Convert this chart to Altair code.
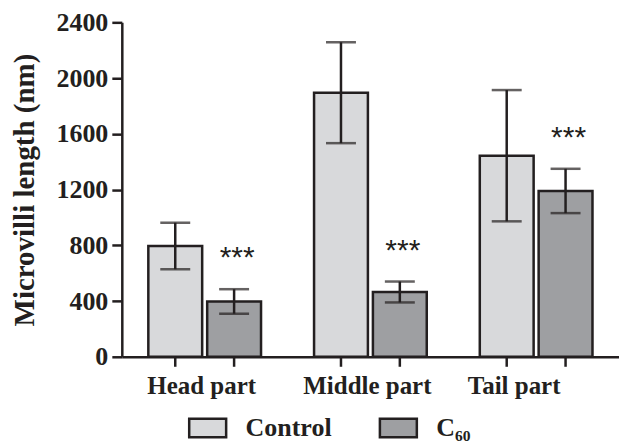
import altair as alt
import pandas as pd

parts = ["Head part", "Middle part", "Tail part"]
series = ["Control", "C₆₀"]
control_mean = [795, 1895, 1443]
control_err = [167, 362, 471]
c60_mean = [397, 465, 1190]
c60_err = [88, 75, 159]
c60_sig = ["***", "***", "***"]

rows = []
for i, p in enumerate(parts):
    rows.append(dict(part=p, group=series[0], mean=control_mean[i],
                     lo=control_mean[i] - control_err[i], hi=control_mean[i] + control_err[i], sig=""))
    rows.append(dict(part=p, group=series[1], mean=c60_mean[i],
                     lo=c60_mean[i] - c60_err[i], hi=c60_mean[i] + c60_err[i], sig=c60_sig[i]))
df = pd.DataFrame(rows)

INK = "#231f20"
FONT = "Liberation Serif"
W, H = 498, 335

x = alt.X("part:N", sort=parts, title=None,
          scale=alt.Scale(paddingInner=0.32, paddingOuter=0.16),
          axis=alt.Axis(labelAngle=0, ticks=False, labelPadding=17, domainColor=INK,
                        domainWidth=2.5, labelFont=FONT, labelFontWeight="bold",
                        labelFontSize=25, labelColor=INK,
                        labelOffset={"condition": {"test": "datum.value == 'Tail part'", "value": -22},
                                     "value": -3}))
xo = alt.XOffset("group:N", sort=series,
                 scale=alt.Scale(paddingInner=0.085, paddingOuter=0))
y = alt.Y("mean:Q", title="Microvilli length (nm)",
          scale=alt.Scale(domain=[0, 2400], nice=False),
          axis=alt.Axis(values=[0, 400, 800, 1200, 1600, 2000, 2400], format="d", grid=False,
                        domainColor=INK, domainWidth=2.5, tickColor=INK, tickWidth=2.5,
                        tickSize=10, labelPadding=4, labelFont=FONT, labelFontWeight="bold",
                        labelFontSize=26, labelColor=INK, titleFont=FONT,
                        titleFontWeight="bold", titleFontSize=29, titleColor=INK,
                        titlePadding=16))

base = alt.Chart(df)

bars = base.mark_bar(stroke=INK, strokeWidth=2.5).encode(
    x=x, xOffset=xo, y=y,
    color=alt.Color("group:N", sort=series,
                    scale=alt.Scale(domain=series, range=["#d8d9db", "#9e9fa2"]),
                    legend=alt.Legend(title=None, orient="none", direction="horizontal",
                                      legendX=66, legendY=386,
                                      symbolType="M-1,-0.5h2v1h-2z", symbolSize=1369,
                                      symbolStrokeColor=INK, symbolStrokeWidth=2.5,
                                      symbolOpacity=1, labelFont=FONT,
                                      labelFontWeight="bold", labelFontSize=26,
                                      labelColor=INK, labelOffset=18,
                                      columnPadding=42, padding=0, labelLimit=200)),
)

err = base.mark_rule(color=INK, strokeWidth=2.5).encode(
    x=x, xOffset=xo, y="lo:Q", y2="hi:Q")
cap_hi = base.mark_tick(color=INK, thickness=2.5, size=30).encode(
    x=x, xOffset=xo, y="hi:Q")
cap_lo = base.mark_tick(color=INK, thickness=2.5, size=30).encode(
    x=x, xOffset=xo, y="lo:Q")
stars = base.mark_text(color=INK, font="Liberation Sans", fontSize=30,
                       baseline="middle", dy=-31, dx=3).encode(
    x=x, xOffset=xo, y="hi:Q", text="sig:N")
ticks = base.mark_rule(color=INK, strokeWidth=2.5).encode(
    x=x, xOffset=xo, y=alt.value(H), y2=alt.value(H + 10))

chart = alt.layer(bars, err, cap_hi, cap_lo, stars, ticks).properties(
    width=W, height=H,
    autosize=alt.AutoSizeParams(type="none"),
    padding={"left": 114, "top": 14, "right": 0, "bottom": 88},
).configure(background="white").configure_view(stroke=None)

chart.save("out.html", embed_options={"renderer": "svg", "actions": False})
